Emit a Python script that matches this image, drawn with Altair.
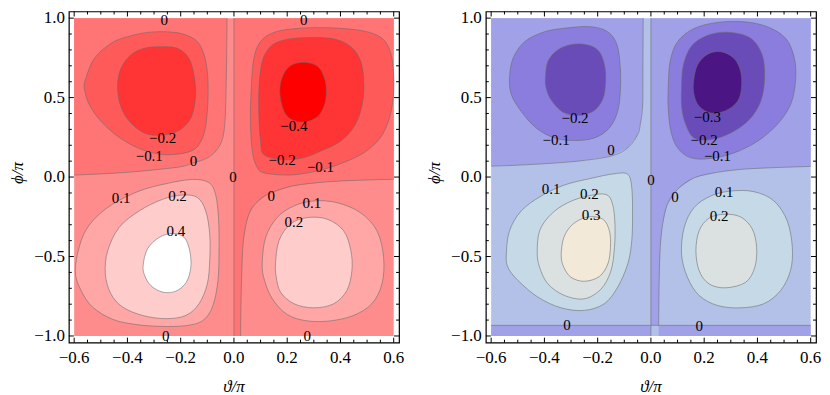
import altair as alt
import pandas as pd

SERIF = "'Liberation Serif', 'Times New Roman', 'DejaVu Serif', serif"

# ---------------- axes / ranges ----------------
X_DOMAIN = [-0.62, 0.62]
Y_DOMAIN = [-1.042, 1.042]
TH_MIN, TH_MAX = -0.6, 0.6
PH_MIN, PH_MAX = -1.0, 1.0
X_MAJOR = [-0.6, -0.4, -0.2, 0.0, 0.2, 0.4, 0.6]
X_TICK_LABELS = ["\u22120.6", "\u22120.4", "\u22120.2", "0.0", "0.2", "0.4", "0.6"]
X_MINOR = [-0.55, -0.5, -0.45, -0.35, -0.3, -0.25, -0.15, -0.1, -0.05,
           0.05, 0.1, 0.15, 0.25, 0.3, 0.35, 0.45, 0.5, 0.55]
Y_MAJOR = [-1.0, -0.5, 0.0, 0.5, 1.0]
Y_TICK_LABELS = ["\u22121.0", "\u22120.5", "0.0", "0.5", "1.0"]
Y_MINOR = [-0.9, -0.8, -0.7, -0.6, -0.4, -0.3, -0.2, -0.1,
           0.1, 0.2, 0.3, 0.4, 0.6, 0.7, 0.8, 0.9]
X_TITLE = "\u03d1/\u03c0"
Y_TITLE = "\u03d5/\u03c0"

# ---------------- band colours (lowest -> highest) ----------------
BANDS = ["b0", "b1", "b2", "b3", "b4", "b5", "b6", "b7"]
RED_COLORS = ["#ff0000", "#ff3434", "#ff5a5a", "#ff7474",
              "#ff8c8c", "#ffa6a6", "#ffcccc", "#ffffff"]
BLUE_COLORS = ["#4b1583", "#6a4cb9", "#8a7ddd", "#a1a1e7",
               "#b3c0e8", "#c5dae6", "#dbe0e0", "#f2e9d8"]

# ---------------- left panel contours (theta/pi, phi/pi) ----------------
L_ZERO_VERT = [(0.0, 1.0), (0.0, -1.0)]
L_ZERO_TL = [(-0.6, 0.0125), (-0.5, 0.02), (-0.4, 0.03), (-0.3, 0.045), (-0.2, 0.065),
             (-0.15, 0.09), (-0.1, 0.12), (-0.07, 0.16), (-0.05, 0.21), (-0.038, 0.28),
             (-0.032, 0.4), (-0.029, 0.6), (-0.027, 0.8), (-0.026, 1.0)]
L_ZERO_R = [(0.025, -1.0), (0.027, -0.75), (0.033, -0.45), (0.045, -0.3), (0.06, -0.22),
            (0.08, -0.17), (0.125, -0.11), (0.22, -0.056), (0.35, -0.03), (0.47, -0.02),
            (0.6, -0.014)]
L_TL_M01 = [(-0.556, 0.622), (-0.524, 0.747), (-0.462, 0.841), (-0.400, 0.883), (-0.325, 0.910),
            (-0.250, 0.914), (-0.187, 0.898), (-0.137, 0.852), (-0.112, 0.768), (-0.100, 0.664),
            (-0.097, 0.539), (-0.100, 0.413), (-0.110, 0.288), (-0.131, 0.205), (-0.162, 0.163),
            (-0.225, 0.142), (-0.287, 0.146), (-0.362, 0.184), (-0.437, 0.257), (-0.499, 0.351),
            (-0.543, 0.455), (-0.562, 0.560)]
L_TL_M02 = [(-0.437, 0.580), (-0.424, 0.685), (-0.387, 0.768), (-0.337, 0.810), (-0.275, 0.820),
            (-0.212, 0.810), (-0.169, 0.747), (-0.150, 0.643), (-0.144, 0.539), (-0.150, 0.434),
            (-0.169, 0.351), (-0.212, 0.288), (-0.275, 0.263), (-0.337, 0.278), (-0.393, 0.351),
            (-0.427, 0.455)]
L_TR_M01 = [(0.112, 0.027), (0.212, 0.013), (0.312, 0.038), (0.400, 0.084), (0.487, 0.152),
            (0.549, 0.246), (0.584, 0.372), (0.599, 0.518), (0.599, 0.664), (0.587, 0.789),
            (0.556, 0.873), (0.487, 0.919), (0.362, 0.939), (0.237, 0.935), (0.150, 0.910),
            (0.100, 0.852), (0.075, 0.747), (0.065, 0.559), (0.062, 0.351), (0.069, 0.163),
            (0.085, 0.069)]
L_TR_M02 = [(0.112, 0.142), (0.175, 0.111), (0.250, 0.117), (0.325, 0.163), (0.400, 0.225),
            (0.456, 0.330), (0.484, 0.476), (0.487, 0.622), (0.472, 0.747), (0.431, 0.831),
            (0.362, 0.873), (0.262, 0.877), (0.187, 0.862), (0.137, 0.820), (0.106, 0.727),
            (0.094, 0.560), (0.094, 0.372), (0.100, 0.225)]
L_TR_M04 = [(0.172, 0.539), (0.185, 0.643), (0.218, 0.706), (0.268, 0.722), (0.315, 0.695),
            (0.340, 0.622), (0.347, 0.539), (0.340, 0.455), (0.315, 0.382), (0.268, 0.347),
            (0.218, 0.361), (0.187, 0.418)]
L_BL_P01 = [(-0.596, -0.589), (-0.574, -0.401), (-0.531, -0.276), (-0.456, -0.171), (-0.356, -0.088),
            (-0.256, -0.042), (-0.156, -0.015), (-0.094, -0.035), (-0.069, -0.109), (-0.058, -0.255),
            (-0.056, -0.443), (-0.060, -0.651), (-0.081, -0.818), (-0.119, -0.905), (-0.181, -0.935),
            (-0.268, -0.940), (-0.368, -0.928), (-0.456, -0.895), (-0.531, -0.818), (-0.574, -0.714)]
L_BL_P02 = [(-0.483, -0.610), (-0.474, -0.463), (-0.431, -0.317), (-0.356, -0.213), (-0.268, -0.140),
            (-0.194, -0.113), (-0.137, -0.129), (-0.106, -0.213), (-0.091, -0.359), (-0.091, -0.526),
            (-0.100, -0.672), (-0.131, -0.797), (-0.181, -0.871), (-0.256, -0.891), (-0.343, -0.871),
            (-0.418, -0.818), (-0.462, -0.735)]
L_BL_P04 = [(-0.341, -0.557), (-0.325, -0.453), (-0.281, -0.380), (-0.231, -0.355), (-0.187, -0.380),
            (-0.166, -0.464), (-0.162, -0.568), (-0.179, -0.662), (-0.218, -0.718), (-0.268, -0.724),
            (-0.312, -0.683), (-0.335, -0.620)]
L_BR_P01 = [(0.106, -0.547), (0.119, -0.380), (0.162, -0.255), (0.225, -0.182), (0.300, -0.150),
            (0.387, -0.161), (0.474, -0.223), (0.537, -0.338), (0.562, -0.505), (0.556, -0.672),
            (0.518, -0.797), (0.449, -0.871), (0.362, -0.905), (0.275, -0.905), (0.200, -0.865),
            (0.144, -0.766), (0.115, -0.651)]
L_BR_P02 = [(0.156, -0.547), (0.169, -0.401), (0.212, -0.296), (0.275, -0.255), (0.350, -0.265),
            (0.412, -0.338), (0.439, -0.463), (0.443, -0.589), (0.424, -0.714), (0.375, -0.797),
            (0.300, -0.823), (0.225, -0.797), (0.175, -0.724), (0.159, -0.630)]
L_LABELS = [("0", -0.262, 0.987), ("0", 0.262, 0.987), ("\u22120.2", -0.268, 0.246),
            ("\u22120.1", -0.318, 0.132), ("0", -0.152, 0.100), ("0", -0.004, 0.002),
            ("\u22120.4", 0.225, 0.319), ("\u22120.2", 0.181, 0.106), ("\u22120.1", 0.325, 0.065),
            ("0.1", -0.424, -0.129), ("0.2", -0.212, -0.119), ("0.4", -0.218, -0.338),
            ("0", 0.140, -0.119), ("0.1", 0.293, -0.161), ("0.2", 0.225, -0.280),
            ("0", -0.256, -1.0), ("0", 0.275, -1.0)]

# ---------------- right panel contours ----------------
R_ZERO_VERT = [(0.0, 1.0), (0.0, -1.0)]
R_ZERO_BOTTOM = -0.933
R_ZERO_TL = [(-0.6, 0.069), (-0.524, 0.073), (-0.4, 0.084), (-0.275, 0.1), (-0.15, 0.132),
             (-0.087, 0.184), (-0.05, 0.267), (-0.04, 0.33), (-0.031, 0.455), (-0.03, 0.7),
             (-0.029, 1.0)]
R_ZERO_R = [(0.029, -0.933), (0.031, -0.651), (0.035, -0.443), (0.044, -0.296), (0.062, -0.171),
            (0.1, -0.077), (0.162, -0.005), (0.25, 0.03), (0.35, 0.05), (0.474, 0.06), (0.6, 0.067)]
R_TL_M01 = [(-0.531, 0.622), (-0.518, 0.747), (-0.474, 0.852), (-0.400, 0.914), (-0.312, 0.939),
            (-0.225, 0.946), (-0.162, 0.914), (-0.127, 0.831), (-0.115, 0.685), (-0.115, 0.539),
            (-0.125, 0.413), (-0.156, 0.309), (-0.212, 0.246), (-0.287, 0.230), (-0.362, 0.246),
            (-0.431, 0.309), (-0.487, 0.413), (-0.524, 0.518)]
R_TL_M02 = [(-0.396, 0.622), (-0.387, 0.727), (-0.350, 0.800), (-0.293, 0.835), (-0.237, 0.831),
            (-0.194, 0.789), (-0.172, 0.685), (-0.172, 0.559), (-0.185, 0.476), (-0.218, 0.413),
            (-0.275, 0.388), (-0.331, 0.409), (-0.375, 0.486), (-0.393, 0.559)]
R_TR_M01 = [(0.065, 0.559), (0.072, 0.727), (0.100, 0.852), (0.162, 0.935), (0.250, 0.973),
            (0.350, 0.977), (0.437, 0.946), (0.506, 0.873), (0.539, 0.747), (0.543, 0.601),
            (0.524, 0.455), (0.474, 0.330), (0.400, 0.225), (0.312, 0.152), (0.225, 0.117),
            (0.150, 0.121), (0.100, 0.184), (0.075, 0.288), (0.065, 0.434)]
R_TR_M02 = [(0.115, 0.559), (0.122, 0.706), (0.156, 0.831), (0.225, 0.898), (0.300, 0.910),
            (0.375, 0.873), (0.418, 0.768), (0.427, 0.622), (0.412, 0.476), (0.369, 0.361),
            (0.300, 0.278), (0.225, 0.236), (0.162, 0.246), (0.131, 0.330), (0.116, 0.434)]
R_TR_M03 = [(0.160, 0.601), (0.175, 0.706), (0.212, 0.772), (0.262, 0.789), (0.312, 0.747),
            (0.337, 0.664), (0.340, 0.559), (0.325, 0.476), (0.281, 0.418), (0.225, 0.403),
            (0.181, 0.445), (0.162, 0.518)]
R_BL_P01 = [(-0.543, -0.484), (-0.531, -0.338), (-0.487, -0.213), (-0.412, -0.119), (-0.325, -0.050),
            (-0.225, -0.008), (-0.137, 0.021), (-0.087, 0.017), (-0.072, -0.067), (-0.069, -0.234),
            (-0.072, -0.401), (-0.087, -0.547), (-0.125, -0.693), (-0.175, -0.797), (-0.250, -0.839),
            (-0.337, -0.823), (-0.424, -0.756), (-0.499, -0.651), (-0.537, -0.568)]
R_BL_P02 = [(-0.427, -0.474), (-0.418, -0.338), (-0.375, -0.234), (-0.312, -0.161), (-0.237, -0.119),
            (-0.169, -0.109), (-0.144, -0.171), (-0.135, -0.296), (-0.137, -0.443), (-0.150, -0.589),
            (-0.187, -0.704), (-0.250, -0.766), (-0.325, -0.745), (-0.387, -0.672), (-0.418, -0.568)]
R_BL_P03 = [(-0.337, -0.495), (-0.327, -0.380), (-0.293, -0.296), (-0.237, -0.251), (-0.181, -0.265),
            (-0.156, -0.338), (-0.152, -0.443), (-0.162, -0.547), (-0.194, -0.626), (-0.250, -0.656),
            (-0.300, -0.631), (-0.327, -0.568)]
R_BR_P01 = [(0.115, -0.484), (0.125, -0.317), (0.162, -0.192), (0.225, -0.119), (0.300, -0.088),
            (0.387, -0.092), (0.462, -0.150), (0.512, -0.276), (0.531, -0.443), (0.524, -0.589),
            (0.487, -0.714), (0.424, -0.797), (0.337, -0.823), (0.250, -0.808), (0.181, -0.745),
            (0.137, -0.630)]
R_BR_P02 = [(0.169, -0.463), (0.181, -0.338), (0.218, -0.259), (0.275, -0.234), (0.337, -0.251),
            (0.381, -0.328), (0.397, -0.443), (0.390, -0.568), (0.356, -0.662), (0.281, -0.697),
            (0.218, -0.672), (0.181, -0.589)]
R_LABELS = [("\u22120.2", -0.285, 0.372), ("\u22120.1", -0.356, 0.236), ("0", -0.150, 0.173),
            ("\u22120.3", 0.212, 0.376), ("\u22120.2", 0.200, 0.236), ("\u22120.1", 0.250, 0.132),
            ("0", 0.0, -0.02), ("0.1", -0.375, -0.077), ("0.2", -0.231, -0.109),
            ("0.3", -0.225, -0.238), ("0", 0.090, -0.123), ("0.1", 0.275, -0.092),
            ("0.2", 0.256, -0.244), ("0", -0.315, -0.933), ("0", 0.181, -0.937)]

# ---------------- helpers ----------------
W, H = 331, 332
XS = alt.Scale(domain=X_DOMAIN, nice=False, zero=False)
YS = alt.Scale(domain=Y_DOMAIN, nice=False, zero=False)
LINE_COLOR = "#6a6a6a"
MAJOR_LEN, MINOR_LEN = 5, 3
TICK_FONT = 17
LABEL_FONT = 15


def frame(polys):
    rows = []
    for name, pts, band, depth in polys:
        for k, (t, p) in enumerate(pts):
            rows.append(dict(name=name, i=k, t=t, p=p, band=band, depth=depth))
    return pd.DataFrame(rows)


def xy():
    return dict(x=alt.X("t:Q", scale=XS, axis=None), y=alt.Y("p:Q", scale=YS, axis=None))


def frame_ticks():
    out = []
    for vals, ln in [(X_MAJOR, MAJOR_LEN), (X_MINOR, MINOR_LEN)]:
        d = pd.DataFrame({"v": vals})
        for y0, y1 in [(0, ln), (H, H - ln)]:
            out.append(alt.Chart(d).mark_rule(color="black", strokeWidth=1).encode(
                x=alt.X("v:Q", scale=XS, axis=None), y=alt.value(y0), y2=alt.value(y1)))
    for vals, ln in [(Y_MAJOR, MAJOR_LEN), (Y_MINOR, MINOR_LEN)]:
        d = pd.DataFrame({"v": vals})
        for x0, x1 in [(0, ln), (W, W - ln)]:
            out.append(alt.Chart(d).mark_rule(color="black", strokeWidth=1).encode(
                y=alt.Y("v:Q", scale=YS, axis=None), x=alt.value(x0), x2=alt.value(x1)))
    # tick labels and axis titles
    xl = pd.DataFrame({"v": X_MAJOR, "s": X_TICK_LABELS})
    out.append(alt.Chart(xl).mark_text(font=SERIF, fontSize=TICK_FONT, color="black",
                                       baseline="middle", align="center").encode(
        x=alt.X("v:Q", scale=XS, axis=None), y=alt.value(H + 15), text="s:N"))
    yl = pd.DataFrame({"v": Y_MAJOR, "s": Y_TICK_LABELS})
    out.append(alt.Chart(yl).mark_text(font=SERIF, fontSize=TICK_FONT, color="black",
                                       baseline="middle", align="right").encode(
        y=alt.Y("v:Q", scale=YS, axis=None), x=alt.value(-4), text="s:N"))
    tt = pd.DataFrame({"s": [X_TITLE]})
    out.append(alt.Chart(tt).mark_text(font=SERIF, fontSize=TICK_FONT, fontStyle="italic",
                                       color="black", baseline="middle").encode(
        x=alt.value(W / 2), y=alt.value(H + 44), text="s:N"))
    ty = pd.DataFrame({"s": [Y_TITLE]})
    out.append(alt.Chart(ty).mark_text(font=SERIF, fontSize=TICK_FONT, fontStyle="italic",
                                       color="black", baseline="middle", angle=270).encode(
        x=alt.value(-51), y=alt.value(H / 2 - 4), text="s:N"))
    return out


def panel(colors, flat, blobs, lines, labels):
    cscale = alt.Scale(domain=BANDS, range=colors)
    base = pd.DataFrame({"t": [TH_MIN], "t2": [TH_MAX], "p": [PH_MIN], "p2": [PH_MAX]})
    layers = [alt.Chart(base).mark_rect(color=colors[4]).encode(
        x=alt.X("t:Q", scale=XS, axis=None), x2="t2:Q",
        y=alt.Y("p:Q", scale=YS, axis=None), y2="p2:Q")]
    fdf = frame(flat)
    layers.append(alt.Chart(fdf).mark_line(filled=True, interpolate="linear", strokeWidth=0).encode(
        **xy(), color=alt.Color("band:N", scale=cscale, legend=None),
        detail="name:N", order="i:Q"))
    bdf = frame(blobs)
    for d in sorted(bdf["depth"].unique()):
        layers.append(alt.Chart(bdf[bdf["depth"] == d]).mark_line(
            filled=True, interpolate="cardinal-closed", stroke=LINE_COLOR,
            strokeWidth=0.8, strokeOpacity=0.7).encode(
            **xy(), color=alt.Color("band:N", scale=cscale, legend=None),
            detail="name:N", order="i:Q"))
    ldf = frame(lines)
    layers.append(alt.Chart(ldf).mark_line(
        interpolate="cardinal", color=LINE_COLOR, strokeWidth=0.8, strokeOpacity=0.7).encode(
        **xy(), detail="name:N", order="i:Q"))
    tdf = pd.DataFrame(labels, columns=["label", "t", "p"])
    layers.append(alt.Chart(tdf).mark_text(font=SERIF, fontSize=LABEL_FONT, color="black").encode(
        **xy(), text="label:N"))
    layers += frame_ticks()
    return alt.layer(*layers).properties(width=W, height=H)


left_flat = [("n1", L_ZERO_TL + [(TH_MIN, PH_MAX)], "b3", 0),
             ("n2", L_ZERO_VERT + L_ZERO_R + [(TH_MAX, PH_MAX)], "b3", 0)]
left_blobs = [("tl1", L_TL_M01, "b2", 1), ("tl2", L_TL_M02, "b1", 2),
              ("tr1", L_TR_M01, "b2", 1), ("tr2", L_TR_M02, "b1", 2), ("tr4", L_TR_M04, "b0", 3),
              ("bl1", L_BL_P01, "b5", 1), ("bl2", L_BL_P02, "b6", 2), ("bl4", L_BL_P04, "b7", 3),
              ("br1", L_BR_P01, "b5", 1), ("br2", L_BR_P02, "b6", 2)]
left_lines = [("z1", L_ZERO_TL, "", 0), ("z2", L_ZERO_R, "", 0), ("z3", L_ZERO_VERT, "", 0)]

right_flat = [("n1", R_ZERO_TL + [(TH_MIN, PH_MAX)], "b3", 0),
              ("n2", R_ZERO_VERT[:1] + [(0.0, R_ZERO_BOTTOM)] + R_ZERO_R + [(TH_MAX, PH_MAX)], "b3", 0),
              ("n3", [(TH_MIN, PH_MIN), (TH_MIN, R_ZERO_BOTTOM), (0.0, R_ZERO_BOTTOM), (0.0, PH_MIN)], "b3", 0),
              ("n4", [(R_ZERO_R[0][0], PH_MIN), (R_ZERO_R[0][0], R_ZERO_BOTTOM),
                      (TH_MAX, R_ZERO_BOTTOM), (TH_MAX, PH_MIN)], "b3", 0)]
right_blobs = [("tl1", R_TL_M01, "b2", 1), ("tl2", R_TL_M02, "b1", 2),
               ("tr1", R_TR_M01, "b2", 1), ("tr2", R_TR_M02, "b1", 2), ("tr3", R_TR_M03, "b0", 3),
               ("bl1", R_BL_P01, "b5", 1), ("bl2", R_BL_P02, "b6", 2), ("bl3", R_BL_P03, "b7", 3),
               ("br1", R_BR_P01, "b5", 1), ("br2", R_BR_P02, "b6", 2)]
right_lines = [("z1", R_ZERO_TL, "", 0), ("z2", R_ZERO_R, "", 0), ("z3", R_ZERO_VERT, "", 0),
               ("z4", [(TH_MIN, R_ZERO_BOTTOM), (TH_MAX, R_ZERO_BOTTOM)], "", 0)]

left = panel(RED_COLORS, left_flat, left_blobs, left_lines, L_LABELS)
right = panel(BLUE_COLORS, right_flat, right_blobs, right_lines, R_LABELS)

chart = alt.hconcat(left, right, spacing=20).resolve_scale(color="independent").properties(
    padding={"left": 0, "top": 0, "right": 0, "bottom": 0},
    background="white",
).configure_view(stroke="black", strokeWidth=1.2)

chart.save("out.html", embed_options={"renderer": "svg", "actions": False})
